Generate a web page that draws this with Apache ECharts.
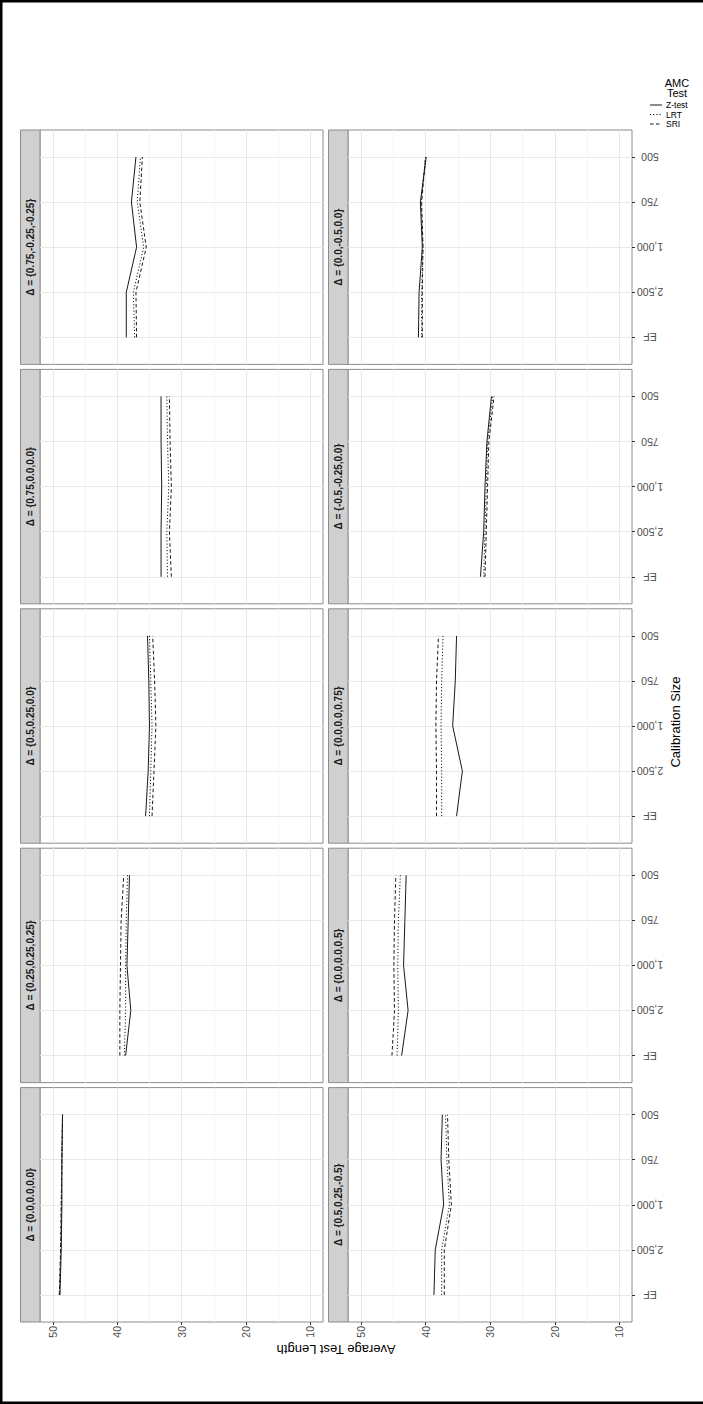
<!DOCTYPE html>
<html><head><meta charset="utf-8">
<script src="https://cdn.jsdelivr.net/npm/echarts@6/dist/echarts.min.js"></script>
<style>html,body{margin:0;padding:0;background:#fff}#c{width:703px;height:1404px}</style>
</head><body><div id="c"></div>
<script>
// ---------------- DATA ----------------
const calibSizes = ['EF', '2,500', '1,000', '750', '500'];
const facetLabels = [
  'Δ = {0.0,0.0,0.0}', 'Δ = {0.25,0.25,0.25}', 'Δ = {0.5,0.25,0.0}', 'Δ = {0.75,0.0,0.0}', 'Δ = {0.75,-0.25,-0.25}',
  'Δ = {0.5,0.25,-0.5}', 'Δ = {0.0,0.0,0.5}', 'Δ = {0.0,0.0,0.75}', 'Δ = {-0.5,-0.25,0.0}', 'Δ = {0.0,-0.5,0.0}'
];
const valueTicks = [10, 20, 30, 40, 50];
const gridTicks = [10, 15, 20, 25, 30, 35, 40, 45, 50];
const testNames = ['Z-test', 'LRT', 'SRI'];
const legendTitle = 'AMC\nTest';
const xTitle = 'Calibration Size';
const yTitle = 'Average Test Length';
// values per facet, in order EF, 2,500, 1,000, 750, 500
const zTest = [
  [48.9, 48.7, 48.6, 48.6, 48.5],
  [38.7, 37.9, 38.5, 38.3, 38.1],
  [35.6, 35.2, 35.0, 35.1, 35.3],
  [33.2, 33.2, 33.1, 33.2, 33.2],
  [38.6, 38.6, 37.0, 37.8, 37.1],
  [38.7, 38.5, 37.2, 37.6, 37.4],
  [43.7, 42.7, 43.4, 43.2, 43.0],
  [35.2, 34.3, 35.8, 35.4, 35.2],
  [31.5, 31.0, 30.8, 30.5, 29.8],
  [41.1, 41.0, 40.5, 40.8, 39.9]
];
const lrtTest = [
  [49.0, 48.8, 48.7, 48.6, 48.5],
  [38.9, 38.7, 38.7, 38.6, 38.4],
  [35.0, 34.8, 34.6, 34.8, 35.0],
  [32.2, 32.3, 32.0, 32.2, 32.3],
  [37.3, 37.5, 35.9, 36.9, 36.4],
  [37.5, 37.5, 36.3, 36.7, 36.9],
  [44.4, 44.2, 44.3, 44.2, 43.9],
  [37.5, 37.5, 37.6, 37.5, 37.3],
  [31.0, 30.8, 30.6, 30.4, 29.6],
  [40.6, 40.6, 40.4, 40.7, 40.0]
];
const sriTest = [
  [49.0, 48.8, 48.7, 48.6, 48.5],
  [39.6, 39.6, 39.5, 39.4, 39.0],
  [34.6, 34.3, 34.0, 34.2, 34.5],
  [31.6, 31.9, 31.6, 31.8, 31.9],
  [37.0, 37.1, 35.5, 36.5, 36.1],
  [37.1, 37.1, 36.0, 36.4, 36.6],
  [45.2, 44.8, 44.9, 44.8, 44.6],
  [38.3, 38.3, 38.4, 38.3, 38.0],
  [30.8, 30.6, 30.4, 30.2, 29.4],
  [40.5, 40.5, 40.4, 40.6, 40.0]
];

// ---------------- LAYOUT / STYLE ----------------
const FONT = '"Liberation Sans", Arial, Helvetica, sans-serif';
const colLeft = [40, 348], colWidth = [283, 284];
const rowTop = [130, 369.4, 608.8, 848.2, 1087.6], rowH = 234.4;
const stripW = 19.5;
const seriesData = [zTest, lrtTest, sriTest];
const lineTypes = ['solid', [1.2, 2], [3.5, 2.5]];

const grids = [], xAxes = [], yAxes = [], series = [], graphics = [];
facetLabels.forEach((lab, i) => {
  const oRow = Math.floor(i / 5), oCol = i % 5;
  const left = colLeft[oRow], width = colWidth[oRow], top = rowTop[4 - oCol];
  grids.push({left, top, width, height: rowH, show: true, backgroundColor: '#fff',
    borderColor: '#8c8c8c', borderWidth: 1});
  const xi = xAxes.length;
  xAxes.push({type: 'value', gridIndex: i, min: 8.05, max: 52, inverse: true, position: 'bottom',
    axisLine: {show: false}, axisTick: {show: false, customValues: gridTicks},
    axisLabel: {show: false},
    splitLine: {show: true, customValues: gridTicks, lineStyle: {color: ['#e8e8e8', '#f4f4f4'], width: 1}}});
  if (oCol === 0) {
    xAxes.push({type: 'value', gridIndex: i, min: 8.05, max: 52, inverse: true, position: 'bottom',
      axisLine: {show: false},
      axisTick: {show: true, customValues: valueTicks, length: 3, lineStyle: {color: '#333'}},
      axisLabel: {show: true, customValues: valueTicks, rotate: 90, margin: 4, fontSize: 10.5,
        color: '#4d4d4d', fontFamily: FONT},
      splitLine: {show: false}});
  }
  yAxes.push({type: 'value', gridIndex: i, min: -0.6, max: 4.6, position: 'right',
    axisLine: {show: false},
    axisTick: {show: oRow === 1, customValues: [0, 1, 2, 3, 4], length: 3, lineStyle: {color: '#333'}},
    axisLabel: {show: oRow === 1, customValues: [0, 1, 2, 3, 4], formatter: v => calibSizes[Math.round(v)],
      rotate: 180, align: 'center', verticalAlign: 'middle', margin: 18, fontSize: 10.5,
      color: '#4d4d4d', fontFamily: FONT},
    splitLine: {show: true, lineStyle: {color: '#e8e8e8', width: 1}}});
  testNames.forEach((name, s) => {
    series.push({name, type: 'line', xAxisIndex: xi, yAxisIndex: i, symbol: 'none',
      data: seriesData[s][i].map((v, j) => [v, j]),
      lineStyle: {color: '#1a1a1a', width: 1, type: lineTypes[s]}, silent: true});
  });
  // strip
  graphics.push({type: 'rect', shape: {x: left - stripW, y: top, width: stripW, height: rowH},
    style: {fill: '#d0d0d0', stroke: '#8c8c8c', lineWidth: 1}});
  graphics.push({type: 'text', x: left - stripW / 2, y: top + rowH / 2, rotation: Math.PI / 2,
    style: {text: lab, fill: '#1a1a1a', font: 'bold 10px ' + FONT, align: 'center', verticalAlign: 'middle'}});
});

// axis titles
graphics.push({type: 'text', x: 336, y: 1349, rotation: Math.PI,
  style: {text: yTitle, fill: '#000', font: '13px ' + FONT, align: 'center', verticalAlign: 'middle'}});
graphics.push({type: 'text', x: 675, y: 722, rotation: Math.PI / 2,
  style: {text: xTitle, fill: '#000', font: '13px ' + FONT, align: 'center', verticalAlign: 'middle'}});

// legend (drawn manually)
graphics.push({type: 'text', x: 677, y: 88,
  style: {text: legendTitle, fill: '#000', font: '11px ' + FONT, lineHeight: 10.5, align: 'center', verticalAlign: 'middle'}});
testNames.forEach((name, s) => {
  const y = 105 + s * 9.5;
  graphics.push({type: 'line', shape: {x1: 650, y1: y, x2: 662, y2: y},
    style: {stroke: '#1a1a1a', lineWidth: 1, lineDash: s === 0 ? null : lineTypes[s]}});
  graphics.push({type: 'text', x: 666, y: y,
    style: {text: name, fill: '#000', font: '8.5px ' + FONT, align: 'left', verticalAlign: 'middle'}});
});

// outer frame
graphics.push({type: 'rect', shape: {x: 0, y: 0, width: 703, height: 2.5}, style: {fill: '#000'}});
graphics.push({type: 'rect', shape: {x: 0, y: 0, width: 2.5, height: 1404}, style: {fill: '#000'}});
graphics.push({type: 'rect', shape: {x: 0, y: 1401.5, width: 703, height: 2.5}, style: {fill: '#000'}});

const chart = echarts.init(document.getElementById('c'), null, {renderer: 'svg'});
chart.setOption({
  animation: false,
  backgroundColor: '#fff',
  textStyle: {fontFamily: FONT},
  grid: grids, xAxis: xAxes, yAxis: yAxes, series,
  graphic: graphics
});
</script></body></html>
